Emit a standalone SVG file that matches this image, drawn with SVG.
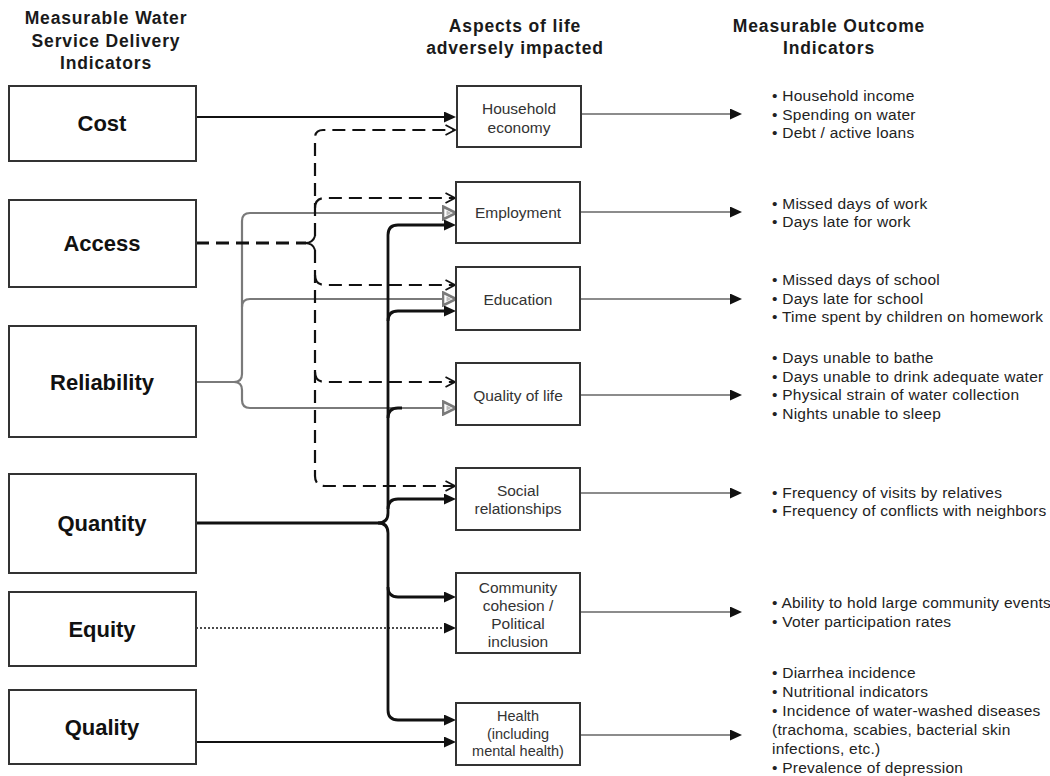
<svg xmlns="http://www.w3.org/2000/svg" width="1050" height="776" viewBox="0 0 1050 776">
<style>
.hdr{font-family:"Liberation Sans",Arial,sans-serif;font-weight:bold;font-size:17.5px;letter-spacing:0.85px;fill:#1a1a1a;text-anchor:middle}
.lbox{fill:#fff;stroke:#333;stroke-width:2}
.lbl{font-family:"Liberation Sans",Arial,sans-serif;font-weight:bold;font-size:22px;fill:#111;text-anchor:middle}
.mbox{fill:#fff;stroke:#333;stroke-width:2}
.mid{font-family:"Liberation Sans",Arial,sans-serif;font-size:15.5px;fill:#333;text-anchor:middle}
.out{font-family:"Liberation Sans",Arial,sans-serif;font-size:15.5px;letter-spacing:0.25px;fill:#222}
.solid{fill:none;stroke:#111;stroke-width:1.8}
.thick{fill:none;stroke:#111;stroke-width:2.8}
.dash{fill:none;stroke:#111;stroke-width:2.2;stroke-dasharray:13 7}
.gray{fill:none;stroke:#7a7a7a;stroke-width:2.2}
.dot{fill:none;stroke:#111;stroke-width:1.6;stroke-dasharray:2 2}
.rarr{fill:none;stroke:#666;stroke-width:1.6}
</style>
<defs>
<marker id="af" markerUnits="userSpaceOnUse" markerWidth="13" markerHeight="11" refX="6" refY="5.5" orient="auto"><path d="M0,0 L12,5.5 L0,11 z" fill="#111"/></marker>
<marker id="ao" markerUnits="userSpaceOnUse" markerWidth="12" markerHeight="12" refX="10.5" refY="6" orient="auto"><path d="M1,1 L10.5,6 L1,11" fill="none" stroke="#111" stroke-width="1.8"/></marker>
<marker id="ah" markerUnits="userSpaceOnUse" markerWidth="16" markerHeight="16" refX="14.5" refY="8" orient="auto"><path d="M1.5,1.5 L14.5,8 L1.5,14.5 z" fill="#fff" stroke="#7a7a7a" stroke-width="2.6"/><path d="M5,5.5 L10,8 L5,10.5 z" fill="#bbb"/></marker>
</defs>

<g id="headers">
<text class="hdr" x="106" y="24">Measurable Water</text>
<text class="hdr" x="106" y="47">Service Delivery</text>
<text class="hdr" x="106" y="69">Indicators</text>
<text class="hdr" x="515" y="32">Aspects of life</text>
<text class="hdr" x="515" y="54">adversely impacted</text>
<text class="hdr" x="829" y="32">Measurable Outcome</text>
<text class="hdr" x="829" y="54">Indicators</text>
</g>

<g id="connectors">
<path class="rarr" d="M580,114 H736" marker-end="url(#af)"/>
<path class="rarr" d="M580,212 H736" marker-end="url(#af)"/>
<path class="rarr" d="M580,299 H736" marker-end="url(#af)"/>
<path class="rarr" d="M580,395 H736" marker-end="url(#af)"/>
<path class="rarr" d="M580,493 H736" marker-end="url(#af)"/>
<path class="rarr" d="M580,612 H736" marker-end="url(#af)"/>
<path class="rarr" d="M580,735 H736" marker-end="url(#af)"/>
<path class="gray" d="M196,382 H234 Q242,382 242,374 V221 Q242,213 250,213 H456" marker-end="url(#ah)"/>
<path class="gray" d="M242,307 Q242,299 250,299 H456" marker-end="url(#ah)"/>
<path class="gray" d="M234,382 Q242,382 242,390 V400 Q242,408 250,408 H456" marker-end="url(#ah)"/>
<path class="dash" style="stroke-width:3" d="M196,243 H306"/>
<path fill="none" stroke="#111" stroke-width="2" d="M305,243 Q313,243 315,236 M305,243 Q313,243 315,250"/>
<path class="dash" d="M315,236 V138 Q315,130 323,130 H455" marker-end="url(#ao)"/>
<path class="dash" d="M315,208 Q315,198 325,198 H455" marker-end="url(#ao)"/>
<path class="dash" d="M315,275 Q315,285 325,285 H455" marker-end="url(#ao)"/>
<path class="dash" d="M315,372 Q315,382 325,382 H455" marker-end="url(#ao)"/>
<path class="dash" d="M315,250 V476 Q315,486 325,486 H455" marker-end="url(#ao)"/>
<path class="solid" d="M196,117 H450" marker-end="url(#af)"/>
<path class="thick" d="M196,523 H378 Q388,523 388,513 V235 Q388,225 398,225 H450" marker-end="url(#af)"/>
<path class="thick" d="M388,321 Q388,311 398,311 H450" marker-end="url(#af)"/>
<path class="thick" d="M388,418 Q388,408 398,408 H402"/>
<path class="thick" d="M388,509 Q388,499 398,499 H450" marker-end="url(#af)"/>
<path class="thick" d="M378,523 Q388,523 388,533 V587 Q388,597 398,597 H450" marker-end="url(#af)"/>
<path class="thick" d="M388,587 V710 Q388,720 398,720 H450" marker-end="url(#af)"/>
<path class="dot" d="M196,628 H450" marker-end="url(#af)"/>
<path class="solid" d="M196,742 H450" marker-end="url(#af)"/>
</g>

<g id="cost"><rect class="lbox" x="9" y="86" width="187" height="75"/><text class="lbl" x="102" y="131">Cost</text></g>
<g id="access"><rect class="lbox" x="9" y="200" width="187" height="87"/><text class="lbl" x="102" y="251">Access</text></g>
<g id="reliability"><rect class="lbox" x="9" y="326" width="187" height="111"/><text class="lbl" x="102" y="390">Reliability</text></g>
<g id="quantity"><rect class="lbox" x="9" y="474" width="187" height="99"/><text class="lbl" x="102" y="531">Quantity</text></g>
<g id="equity"><rect class="lbox" x="9" y="592" width="187" height="74"/><text class="lbl" x="102" y="637">Equity</text></g>
<g id="quality"><rect class="lbox" x="9" y="690" width="187" height="74"/><text class="lbl" x="102" y="735">Quality</text></g>

<g id="household"><rect class="mbox" x="457" y="86" width="124" height="61"/><text class="mid" x="519" y="114">Household</text><text class="mid" x="519" y="133">economy</text></g>
<g id="employment"><rect class="mbox" x="456" y="182" width="124" height="61"/><text class="mid" x="518" y="217.5">Employment</text></g>
<g id="education"><rect class="mbox" x="456" y="267" width="124" height="63"/><text class="mid" x="518" y="304.5">Education</text></g>
<g id="qualityoflife"><rect class="mbox" x="456" y="363" width="124" height="62"/><text class="mid" x="518" y="400.5">Quality of life</text></g>
<g id="social"><rect class="mbox" x="456" y="468" width="124" height="62"/><text class="mid" x="518" y="495.5">Social</text><text class="mid" x="518" y="513.5">relationships</text></g>
<g id="community"><rect class="mbox" x="456" y="573" width="124" height="80"/><text class="mid" x="518" y="592.5">Community</text><text class="mid" x="518" y="610.5">cohesion /</text><text class="mid" x="518" y="628.5">Political</text><text class="mid" x="518" y="647">inclusion</text></g>
<g id="health"><rect class="mbox" x="456" y="703" width="124" height="62"/><text class="mid" style="font-size:14.5px" x="518" y="721">Health</text><text class="mid" style="font-size:14.5px" x="518" y="738.5">(including</text><text class="mid" style="font-size:14.5px" x="518" y="756">mental health)</text></g>

<g id="outcomes">
<text class="out" x="772" y="101">• Household income</text>
<text class="out" x="772" y="120">• Spending on water</text>
<text class="out" x="772" y="138">• Debt / active loans</text>
<text class="out" x="772" y="209">• Missed days of work</text>
<text class="out" x="772" y="227">• Days late for work</text>
<text class="out" x="772" y="285">• Missed days of school</text>
<text class="out" x="772" y="304">• Days late for school</text>
<text class="out" x="772" y="322">• Time spent by children on homework</text>
<text class="out" x="772" y="363">• Days unable to bathe</text>
<text class="out" x="772" y="382">• Days unable to drink adequate water</text>
<text class="out" x="772" y="400">• Physical strain of water collection</text>
<text class="out" x="772" y="419">• Nights unable to sleep</text>
<text class="out" x="772" y="498">• Frequency of visits by relatives</text>
<text class="out" x="772" y="516">• Frequency of conflicts with neighbors</text>
<text class="out" x="772" y="608">• Ability to hold large community events</text>
<text class="out" x="772" y="627">• Voter participation rates</text>
<text class="out" x="772" y="678">• Diarrhea incidence</text>
<text class="out" x="772" y="697">• Nutritional indicators</text>
<text class="out" x="772" y="716">• Incidence of water-washed diseases</text>
<text class="out" x="772" y="735">(trachoma, scabies, bacterial skin</text>
<text class="out" x="772" y="754">infections, etc.)</text>
<text class="out" x="772" y="773">• Prevalence of depression</text>
</g>
</svg>
